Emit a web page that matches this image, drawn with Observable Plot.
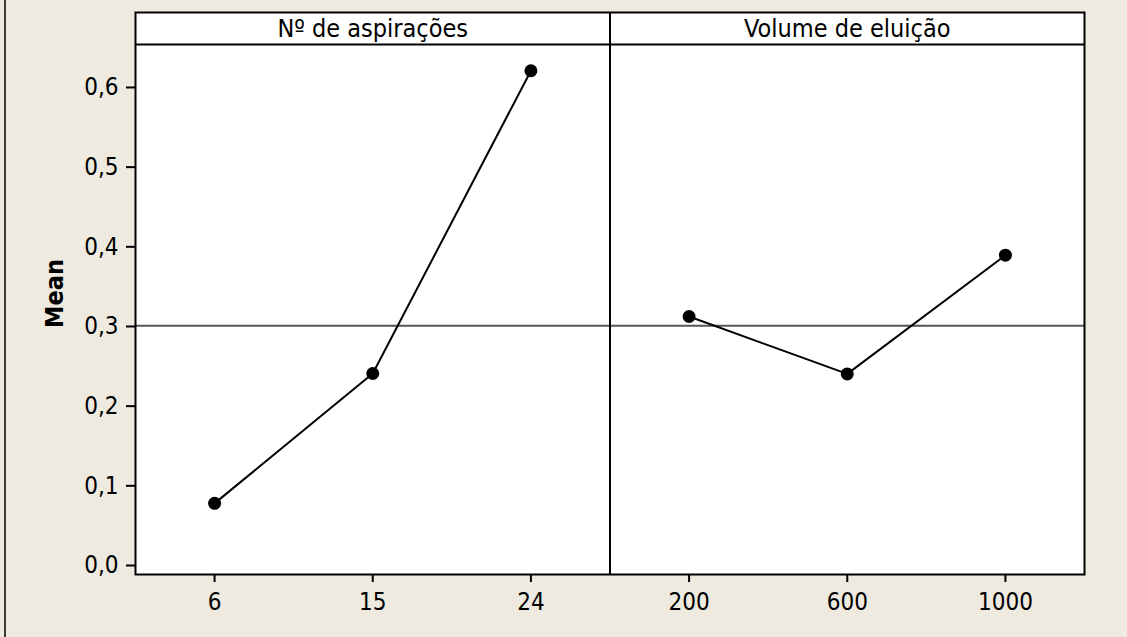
<!DOCTYPE html>
<html><head><meta charset="utf-8">
<script src="https://cdn.jsdelivr.net/npm/d3@7"></script>
<script src="https://cdn.jsdelivr.net/npm/@observablehq/plot@0.6"></script>
<style>
html,body{margin:0;padding:0;background:#eeeae0;}
#wrap{position:relative;width:1127px;height:637px;overflow:hidden;}
#edge{position:absolute;left:4px;top:0;width:2px;height:637px;background:#3a3a3a;}
#wrap svg{position:absolute;left:0;top:0;}
</style></head><body><div id="wrap"><div id="edge"></div></div>
<script>
const factors = ["Nº de aspirações", "Volume de eluição"];
const levelsAsp = ["6", "15", "24"];
const meansAsp = [0.078, 0.241, 0.621];
const levelsVol = ["200", "600", "1000"];
const meansVol = [0.3125, 0.2405, 0.3895];
const grandMean = [0.301];
const yTicks = [0, 0.1, 0.2, 0.3, 0.4, 0.5, 0.6];
const yAxisLabel = "Mean";

const tickLabels = [...levelsAsp, ...levelsVol];
const rows = [];
levelsAsp.forEach((l, i) => rows.push({factor: factors[0], level: l, pos: i, mean: meansAsp[i]}));
levelsVol.forEach((l, i) => rows.push({factor: factors[1], level: l, pos: 3 + i, mean: meansVol[i]}));
const headers = factors.map((f, i) => ({factor: f, pos: i * 3 + 1}));

// layout (scale domain chosen so that header band sits above the data area)
const yMin = -0.0113, yMax = 0.6941, headerBottom = 0.654;
const headerMid = (headerBottom + yMax) / 2;
const font = '"DejaVu Sans Condensed","DejaVu Sans",sans-serif';

const chart = Plot.plot({
  width: 1127, height: 637,
  marginLeft: 135, marginRight: 43, marginTop: 12, marginBottom: 63,
  style: {background: "transparent", fontSize: "24px", fontFamily: font, color: "black"},
  x: {domain: [-0.5, 5.5]},
  y: {domain: [yMin, yMax]},
  marks: [
    Plot.frame({fill: "white", stroke: null}),
    Plot.ruleY(grandMean, {stroke: "#555", strokeWidth: 2}),
    Plot.line(rows, {x: "pos", y: "mean", z: "factor", stroke: "black", strokeWidth: 2}),
    Plot.dot(rows, {x: "pos", y: "mean", r: 6.5, fill: "black", stroke: null}),
    Plot.ruleY([headerBottom], {stroke: "black", strokeWidth: 2}),
    Plot.ruleX([2.5], {stroke: "black", strokeWidth: 2}),
    Plot.text(headers, {x: "pos", y: headerMid, text: "factor", fontSize: 25, fill: "black", dy: 1}),
    Plot.axisY({ticks: yTicks, tickFormat: d => d.toFixed(1).replace(".", ","), tickSize: 9, tickPadding: 8, label: null, strokeWidth: 2, fontSize: 24}),
    Plot.axisX({ticks: [0, 1, 2, 3, 4, 5], tickFormat: i => tickLabels[i], tickSize: 8, tickPadding: 10, label: null, strokeWidth: 2, fontSize: 24}),
    Plot.text([yAxisLabel], {text: d => d, frameAnchor: "left", dx: -81, rotate: -90, textAnchor: "middle", lineAnchor: "middle", fontWeight: "bold", fontSize: 25, fill: "black"}),
    Plot.frame({stroke: "black", strokeWidth: 2})
  ]
});
document.getElementById("wrap").appendChild(chart);
</script>
</body></html>
